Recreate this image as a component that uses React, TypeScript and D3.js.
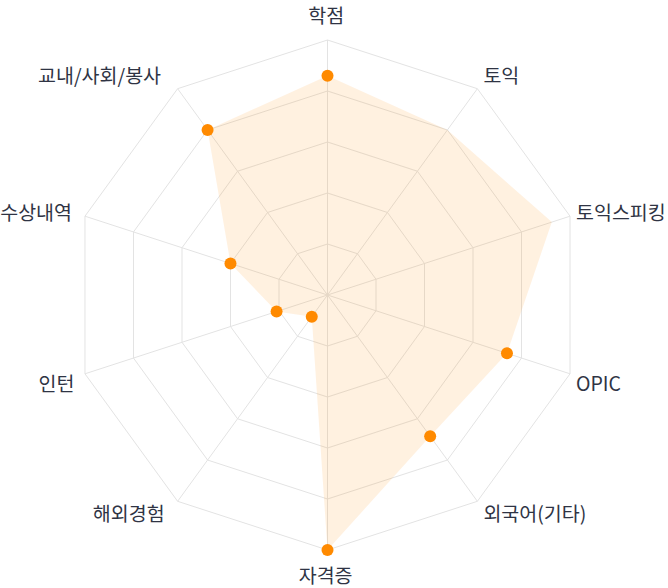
import React, { useEffect, useRef } from 'react';
import * as d3 from 'd3';

const categories = ['학점', '토익', '토익스피킹', 'OPIC', '외국어(기타)', '자격증', '해외경험', '인턴', '수상내역', '교내/사회/봉사'];
const values = [86, 80, 92.5, 74, 68.5, 100, 10.5, 21, 40, 80];
const pointShown = [true, false, false, true, true, true, true, true, true, true];
const gridLevels = [20, 40, 60, 80, 100];

export default function App() {
  const ref = useRef<SVGSVGElement>(null);

  useEffect(() => {
    const svg = d3.select(ref.current);
    svg.selectAll('*').remove();
    const cx = 327.5, cy = 295, R = 255;
    const n = categories.length;
    const r = d3.scaleLinear().domain([0, 100]).range([0, R]);
    const angle = (i: number) => (i * 2 * Math.PI) / n;
    const g = svg.append('g').attr('transform', `translate(${cx},${cy})`);

    const line = d3
      .lineRadial<number>()
      .angle((_d, i) => angle(i))
      .radius((d) => r(d))
      .curve(d3.curveLinearClosed);

    // grid rings
    gridLevels.forEach((lv) => {
      g.append('path')
        .attr('d', line(categories.map(() => lv)) as string)
        .attr('fill', 'none')
        .attr('stroke', '#e3e3e3')
        .attr('stroke-width', 1);
    });
    // spokes
    categories.forEach((_c, i) => {
      const [x, y] = d3.pointRadial(angle(i), r(100));
      g.append('line')
        .attr('x1', 0).attr('y1', 0)
        .attr('x2', x).attr('y2', y)
        .attr('stroke', '#e3e3e3')
        .attr('stroke-width', 1);
    });

    // data area
    g.append('path')
      .attr('d', line(values) as string)
      .attr('fill', 'rgba(255,138,0,0.12)')
      .attr('stroke', 'none');

    // points
    values.forEach((v, i) => {
      if (!pointShown[i]) return;
      const [x, y] = d3.pointRadial(angle(i), r(v));
      g.append('circle').attr('cx', x).attr('cy', y).attr('r', 6).attr('fill', '#FF8A00');
    });

    // labels
    categories.forEach((c, i) => {
      const a = angle(i);
      const s = Math.sin(a), co = Math.cos(a);
      const [vx, vy] = d3.pointRadial(a, r(100));
      const dy = co > 0.9 ? -17.5 : co > 0.5 ? -6 : co > 0 ? 4 : co > -0.5 ? 17 : co > -0.9 ? 20 : 32.5;
      const t = g.append('text')
        .attr('y', vy + dy)
        .attr('text-anchor', 'start')
        .attr('font-family', '"Noto Sans CJK KR", "Noto Sans", sans-serif')
        .attr('font-size', 19.5)
        .attr('fill', '#2f3444')
        .text(c);
      const node = t.node() as SVGTextElement;
      const w = node.getComputedTextLength();
      let x: number;
      if (s > 0.1) x = vx + 6;
      else if (s < -0.1) x = vx - 8 - 1.07 * w;
      else x = vx - 0.535 * w;
      t.attr('x', x);
    });
  }, []);

  return (
    <svg
      ref={ref}
      width={668}
      height={588}
      style={{ position: 'absolute', left: 0, top: 0, background: '#ffffff' }}
    />
  );
}
